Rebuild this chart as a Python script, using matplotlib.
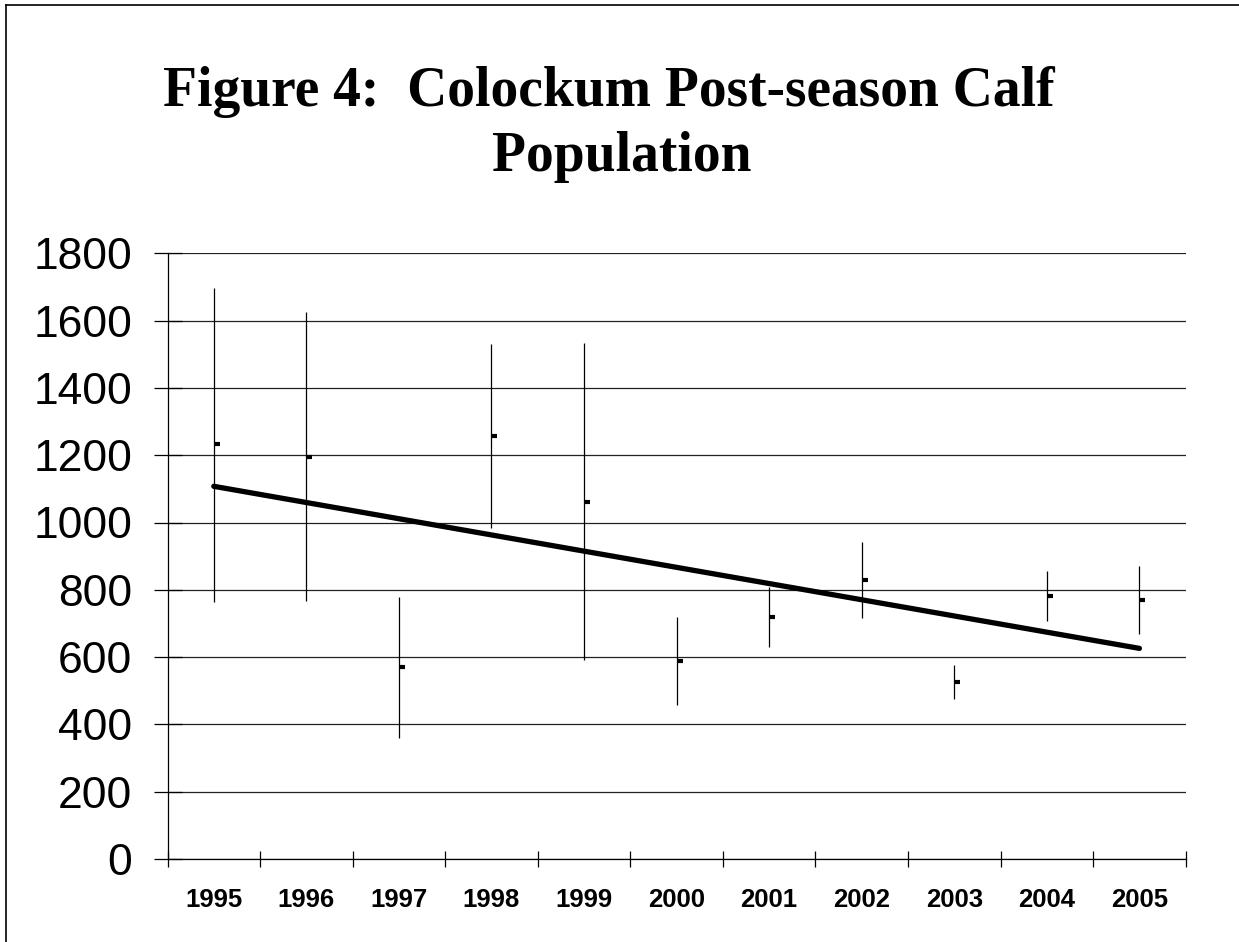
import numpy as np
import matplotlib
matplotlib.use("Agg")
import matplotlib.pyplot as plt
from matplotlib.path import Path
from matplotlib.lines import Line2D

years = ["1995", "1996", "1997", "1998", "1999", "2000", "2001", "2002", "2003", "2004", "2005"]
highs = [1697, 1626, 780, 1529, 1534, 718, 807, 943, 577, 857, 870]
lows = [765, 768, 361, 983, 590, 459, 631, 716, 475, 707, 670]
means = [1232, 1196, 572, 1256, 1062, 588, 720, 830, 526, 782, 770]
yticks = [0, 200, 400, 600, 800, 1000, 1200, 1400, 1600, 1800]
title_line1 = "Figure 4:  Colockum Post-season Calf"
title_line2 = "Population"

W, H = 1239, 942
fig = plt.figure(figsize=(W / 100, H / 100), dpi=100)
ax = fig.add_axes([167.5 / W, 1 - 859 / H, (1185.7 - 167.5) / W, (859 - 253.3) / H])

x = np.arange(len(years))

# grid
ax.set_ylim(0, 1800)
ax.set_xlim(-0.5, len(years) - 0.5)
ax.set_yticks(yticks)
ax.set_yticklabels([str(v) for v in yticks], fontsize=32, family="Liberation Sans")
for v in yticks:
    ax.axhline(v, color="#222222", lw=0.9, zorder=1)

# high-low lines
ax.vlines(x, lows, highs, color="black", lw=0.9, zorder=3)
# close marks (offset to the right)
close_marker = Path([(0, 0), (1, 0)], [Path.MOVETO, Path.LINETO])
ax.plot(x, means, ls="none", marker=close_marker, markersize=9,
        markeredgewidth=3.0, color="black", zorder=4)

# linear trend of the means
coef = np.polyfit(x, means, 1)
trend = np.polyval(coef, x)
ax.plot(x, trend, color="black", lw=3.8, solid_capstyle="round", zorder=5)

# axes styling
for s in ["top", "right"]:
    ax.spines[s].set_visible(False)
for s in ["left", "bottom"]:
    ax.spines[s].set_color("black")
    ax.spines[s].set_linewidth(0.9)

ax.tick_params(axis="y", direction="inout", length=20, width=0.9, pad=15.5, colors="black")
ax.set_xticks(np.arange(-0.5, len(years), 1.0))
ax.set_xticklabels([])
ax.set_xticks(x, minor=True)
ax.set_xticklabels(years, minor=True, fontsize=18.5, fontweight="bold", family="Liberation Sans")
ax.tick_params(axis="x", which="major", direction="inout", length=12, width=0.9, colors="black")
ax.tick_params(axis="x", which="minor", length=0, pad=21)

# title
fig.text(609 / W, 1 - 106 / H, title_line1, ha="center", va="baseline",
         fontsize=40, fontweight="bold", family="Liberation Serif")
fig.text(622 / W, 1 - 171 / H, title_line2, ha="center", va="baseline",
         fontsize=40, fontweight="bold", family="Liberation Serif")

# frame (left and top edges)
fig.add_artist(Line2D([6 / W, 6 / W], [0, 1 - 5 / H], color="black", lw=1.2, transform=fig.transFigure))
fig.add_artist(Line2D([6 / W, 1], [1 - 5 / H, 1 - 5 / H], color="black", lw=1.2, transform=fig.transFigure))

fig.savefig("out.png", dpi=100)
